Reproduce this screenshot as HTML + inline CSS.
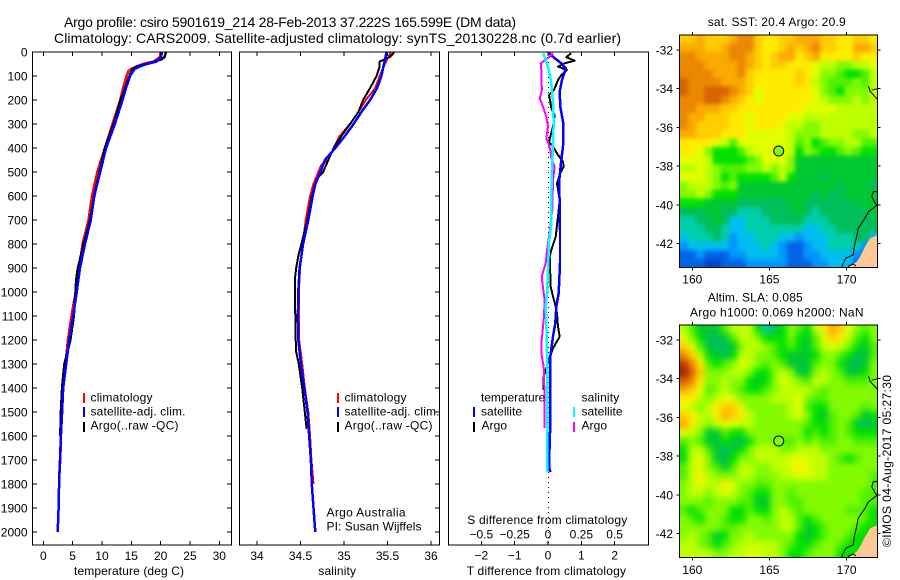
<!DOCTYPE html>
<html lang="en">
<head>
<meta charset="utf-8">
<title>Argo profile csiro 5901619_214</title>
<style>
html,body{margin:0;padding:0;background:#fff;width:900px;height:580px;overflow:hidden}
svg{display:block}
text{font-family:"Liberation Sans",Arial,sans-serif;font-size:12px;fill:#000}
.frame{fill:none;stroke:#000;stroke-width:1;shape-rendering:crispEdges}
.tick{stroke:#000;stroke-width:1;shape-rendering:crispEdges}
.curve{fill:none;shape-rendering:crispEdges;stroke-linejoin:round}
.bar{shape-rendering:crispEdges}
</style>
</head>
<body>
<svg id="chart" xmlns="http://www.w3.org/2000/svg" width="900" height="580" viewBox="0 0 900 580">
  <defs>
    <filter id="blurSst" filterUnits="userSpaceOnUse" x="640" y="0" width="260" height="300" color-interpolation-filters="sRGB"><feGaussianBlur stdDeviation="2.2"/></filter>
    <filter id="blurSla" filterUnits="userSpaceOnUse" x="640" y="290" width="260" height="290" color-interpolation-filters="sRGB"><feGaussianBlur stdDeviation="3.2"/></filter>
    <clipPath id="clipSst"><rect x="679.5" y="35" width="198" height="232.5"/></clipPath>
    <clipPath id="clipSla"><rect x="679.5" y="325" width="198" height="232.5"/></clipPath>
  </defs>
  <rect x="0" y="0" width="900" height="580" fill="#fff"/>
  <text x="64" y="27" style="font-size:14px" textLength="452" lengthAdjust="spacing">Argo profile: csiro 5901619_214 28-Feb-2013 37.222S 165.599E (DM data)</text>
  <text x="54" y="43" style="font-size:14px" textLength="567" lengthAdjust="spacing">Climatology: CARS2009. Satellite-adjusted climatology: synTS_20130228.nc (0.7d earlier)</text>

  <g id="panelT"></g>
  <g id="panelS"></g>
  <g id="panelD"></g>
  <g id="mapA"></g>
  <g id="mapB"></g>

  <text x="74" y="575" textLength="110" lengthAdjust="spacing">temperature (deg C)</text>
  <text x="318.3" y="575" textLength="37.7" lengthAdjust="spacing">salinity</text>
  <text x="466.7" y="575" textLength="159.3" lengthAdjust="spacing">T difference from climatology</text>
  <text x="467.3" y="524" textLength="160" lengthAdjust="spacing">S difference from climatology</text>

  <g>
    <rect class="bar" x="83" y="393" width="2" height="10" fill="#f00"/>
    <text x="90.5" y="401.5" textLength="62" lengthAdjust="spacing">climatology</text>
    <rect class="bar" x="83" y="407" width="2" height="10" fill="#00f"/>
    <text x="90.5" y="415.5" textLength="95" lengthAdjust="spacing">satellite-adj. clim.</text>
    <rect class="bar" x="83" y="422" width="2" height="10" fill="#000"/>
    <text x="90.5" y="429.5" textLength="88" lengthAdjust="spacing">Argo(..raw -QC)</text>
  </g>
  <g>
    <rect class="bar" x="337" y="393" width="2" height="10" fill="#f00"/>
    <text x="344.5" y="401.5" textLength="62" lengthAdjust="spacing">climatology</text>
    <rect class="bar" x="337" y="407" width="2" height="10" fill="#00f"/>
    <text x="344.5" y="415.5" textLength="95" lengthAdjust="spacing">satellite-adj. clim.</text>
    <rect class="bar" x="337" y="422" width="2" height="10" fill="#000"/>
    <text x="344.5" y="429.5" textLength="88" lengthAdjust="spacing">Argo(..raw -QC)</text>
  </g>
  <text x="326.5" y="516.5" textLength="79" lengthAdjust="spacing">Argo Australia</text>
  <text x="326.5" y="530.5" textLength="95" lengthAdjust="spacing">PI: Susan Wijffels</text>

  <g>
    <text x="481" y="401.5" textLength="64.3" lengthAdjust="spacing">temperature</text>
    <rect class="bar" x="473" y="407" width="2" height="10" fill="#00f"/>
    <text x="481" y="415.5" textLength="41" lengthAdjust="spacing">satellite</text>
    <rect class="bar" x="473" y="422" width="2" height="10" fill="#000"/>
    <text x="481.5" y="429.5" textLength="25.5" lengthAdjust="spacing">Argo</text>
    <text x="581.5" y="401.5" textLength="37.7" lengthAdjust="spacing">salinity</text>
    <rect class="bar" x="573" y="407" width="2" height="10" fill="#0ff"/>
    <text x="581.5" y="415.5" textLength="41" lengthAdjust="spacing">satellite</text>
    <rect class="bar" x="573" y="422" width="2" height="10" fill="#f0f"/>
    <text x="581.5" y="429.5" textLength="25.5" lengthAdjust="spacing">Argo</text>
  </g>

  <text x="707.7" y="26" textLength="138" lengthAdjust="spacing">sat. SST: 20.4 Argo: 20.9</text>
  <text x="707.7" y="301.5" textLength="95" lengthAdjust="spacing">Altim. SLA: 0.085</text>
  <text x="690" y="316.5" textLength="173.5" lengthAdjust="spacing">Argo h1000: 0.069 h2000: NaN</text>
  <text transform="translate(891,547) rotate(-90)" textLength="172" lengthAdjust="spacing">©IMOS 04-Aug-2017 05:27:30</text>
</svg>

<script>
// ---------- tick labels ----------
const depthTicks = [0,100,200,300,400,500,600,700,800,900,1000,1100,1200,1300,1400,1500,1600,1700,1800,1900,2000];
const tempTicks = [0,5,10,15,20,25,30];
const salTicks = [34,34.5,35,35.5,36];
const tDiffTicks = [-2,-1,0,1,2];
const sDiffTicks = [-0.5,-0.25,0,0.25,0.5];
const lonTicks = [160,165,170];
const latTicks = [-32,-34,-36,-38,-40,-42];

// ---------- temperature profiles ----------
const tempClimDepth = [0,20,40,50,60,70,80,100,150,200,300,400,500,600,700,800,900,1000,1100,1200,1300,1400,1500,1600,1700,1750,1800,1900,2000];
const tempClimValue = [20.0,19.9,18.8,17,15.9,15,14.5,14.2,13.6,13.1,11.8,10.5,9.2,8.3,7.7,6.7,6.1,5.5,4.8,4.2,3.8,3.4,3.2,3,2.9,2.75,2.7,2.6,2.45];
const tempSatDepth = [0,20,40,50,60,70,100,150,200,300,400,500,600,700,800,900,1000,1100,1200,1300,1400,1500,1600,1700,1800,1900,2000];
const tempSatValue = [20.2,20.1,19.3,17.6,16.5,15.6,14.8,14.1,13.5,12.2,10.7,9.7,8.7,8.1,7.1,6.25,5.7,5.1,4.4,3.9,3.4,3.2,3.0,2.85,2.7,2.6,2.45];
const tempArgoDepth = [0,20,30,40,50,60,70,100,150,200,300,400,500,600,700,800,900,950,1000,1100,1200,1300,1400,1500,1600];
const tempArgoValue = [20.9,20.7,20.2,19,17.5,16,15.3,14.7,14,13.2,12,10.5,9.6,8.7,8,6.9,5.9,5.6,5.5,5.2,4.6,3.6,3.2,3,2.9];

// ---------- salinity profiles ----------
const salClimDepth = [0,50,100,150,200,250,300,350,400,450,470,500,550,600,700,800,900,1000,1100,1200,1300,1400,1500,1600,1700,1800];
const salClimValue = [35.54,35.47,35.41,35.36,35.25,35.165,35.07,34.95,34.88,34.82,34.74,34.705,34.65,34.61,34.56,34.525,34.495,34.48,34.48,34.485,34.52,34.55,34.59,34.61,34.625,34.65];
const salSatDepth = [0,50,100,150,200,250,300,350,400,450,500,550,600,700,800,900,1000,1100,1200,1300,1400,1500,1600,1700,1800,1900,2000];
const salSatValue = [35.49,35.46,35.43,35.38,35.30,35.20,35.11,35.01,34.90,34.78,34.73,34.67,34.64,34.59,34.53,34.49,34.475,34.47,34.475,34.505,34.545,34.58,34.60,34.62,34.63,34.65,34.67];
const salArgoDepth = [0,20,40,60,100,150,200,250,300,350,400,450,500,530,600,700,800,850,900,950,1000,1100,1200,1250,1300,1400,1500,1570];
const salArgoValue = [35.58,35.53,35.41,35.41,35.375,35.30,35.22,35.165,35.07,34.97,34.88,34.82,34.76,34.685,34.63,34.58,34.51,34.475,34.45,34.435,34.435,34.44,34.445,34.45,34.48,34.52,34.55,34.57];

// ---------- differences from climatology ----------
const dTSatDepth = [5,26,47,68,117,165,228,297,394,436,492,547,630,742,880,1005,1061,1130,1186,1270,1353,1547,1728,1750];
const dTSatValue = [0.03,0.2,0.4,0.53,0.42,0.35,0.37,0.46,0.45,0.41,0.37,0.33,0.35,0.36,0.36,0.32,0.25,0.22,0.15,0.07,0.07,0.07,0.03,0.07];
const dTArgoDepth = [5,8,22,36,47,61,75,96,117,158,179,207,235,262,311,353,374,394,429,457,478,505,547,617,686,769,825,853,978,1019,1061,1089,1144,1186,1234,1283,1353,1408];
const dTArgoValue = [0.65,0.67,0.55,0.8,0.5,0.3,0.57,0.4,0.3,0.18,0.03,0.07,0.1,0.2,0.15,0.07,0.03,0.15,0.3,0.45,0.47,0.37,0.27,0.35,0.3,0.23,0.1,0.05,0.08,0.15,0.23,0.27,0.3,0.35,0.15,0.03,-0.13,-0.13];
const dSSatDepth = [5,33,75,130,214,297,380,492,603,714,797,908,1005,1061,1117,1256,1395,1750];
const dSSatValue = [-0.0375,-0.0175,0.0075,0.025,0.0375,0.0425,0.0375,0.03,0.025,0.025,0.0075,0,-0.0075,-0.0175,-0.0125,-0.0075,-0.005,-0.005];
const dSArgoDepth = [5,19,47,75,117,158,193,228,269,311,360,374,408,443,478,533,658,769,825,880,936,1005,1033,1117,1214,1256,1311,1450,1567];
const dSArgoValue = [0.0375,0.0125,-0.055,-0.05,-0.05,-0.045,-0.0625,-0.0375,-0.0125,0,-0.0125,0,0.0175,0.025,0.05,0.0375,0.0325,0.0075,-0.0075,-0.0175,-0.0475,-0.0325,-0.025,-0.0325,-0.05,-0.05,-0.0325,-0.025,-0.025];

// ---------- map fields (colour level per cell, north to south) ----------
const sstLevels = [
[13,13,14,13,13,13,14,15,15,13,12,12,13,13,14,14,14,13,13,12,12,13,13,12],
[14,14,14,13,13,14,15,15,15,13,12,12,13,14,13,14,15,13,13,12,12,14,14,13],
[15,15,14,14,14,14,15,15,14,13,12,13,14,14,12,13,14,12,12,12,12,13,12,12],
[15,15,15,14,14,14,14,15,14,13,12,13,13,12,12,12,11,10,10,9,9,10,10,11],
[15,15,15,15,14,14,14,15,13,12,12,12,12,12,13,12,11,9,9,8,7,7,8,10],
[16,15,15,15,15,14,14,14,13,12,12,12,12,12,13,12,10,9,8,8,8,9,8,10],
[16,15,15,16,16,16,15,14,13,11,12,12,12,12,12,12,11,9,8,7,9,9,9,10],
[15,15,15,16,16,15,14,13,12,11,12,12,12,12,12,12,11,10,9,9,9,10,9,10],
[15,15,14,14,14,13,13,12,12,12,12,12,12,12,12,11,11,11,11,10,10,10,10,10],
[15,14,14,13,13,13,12,12,11,12,12,12,12,11,11,10,10,10,10,10,10,10,10,10],
[15,14,13,13,13,13,12,12,11,12,12,12,11,10,10,9,9,10,10,10,10,10,10,10],
[14,14,13,13,13,12,12,12,11,11,11,11,11,10,9,9,9,10,10,10,10,9,9,10],
[12,12,12,12,11,10,8,11,11,11,11,11,11,10,8,9,7,8,9,9,10,10,8,8],
[12,12,11,9,7,7,7,8,10,11,11,11,11,10,7,9,8,7,7,8,9,8,7,7],
[11,11,11,10,7,7,7,7,8,9,11,11,11,9,6,6,6,6,6,6,6,6,6,6],
[10,10,11,10,9,8,8,8,9,9,10,9,10,9,6,6,6,6,6,6,6,6,6,6],
[11,11,11,10,9,7,8,7,7,7,7,8,10,7,6,6,6,5,6,6,6,6,6,6],
[9,10,10,10,9,8,9,6,6,6,6,6,6,6,6,6,6,6,6,5,6,6,6,5],
[9,9,10,9,7,7,7,6,6,6,6,6,6,6,6,6,5,6,5,5,6,6,6,6],
[7,7,7,6,6,6,6,5,5,5,5,5,5,6,6,5,5,5,5,5,5,6,6,6],
[5,5,5,6,6,5,5,4,4,4,5,5,5,5,6,5,4,5,5,5,5,5,5,6],
[4,4,5,5,6,5,3,3,4,4,4,5,5,5,5,4,4,4,5,5,5,5,5,5],
[4,4,4,5,5,4,3,3,4,4,4,4,4,4,4,3,3,4,4,5,5,5,5,5],
[3,4,4,4,5,4,2,3,3,4,4,4,3,3,2,3,3,3,4,4,4,5,5,3],
[2,3,3,3,3,3,2,3,3,3,4,3,2,1,1,2,3,3,4,4,4,4,2,2],
[1,1,2,1,1,1,2,2,3,3,3,3,2,1,1,2,2,3,3,3,3,2,1,1],
[1,1,1,0,0,1,1,1,2,2,2,2,2,1,1,1,2,2,3,3,3,1,1,1]
];
const slaLevels = [
[10,8,6,6,6,8,10,10,10,7,4,5,7,9,8,7,10,12,14,13,11,9,8,9],
[11,9,7,5,5,6,8,10,10,9,7,7,7,9,7,6,8,11,13,12,10,8,7,9],
[13,11,8,6,5,5,6,9,10,10,9,8,7,8,7,6,8,10,11,10,9,7,6,8],
[15,13,10,7,6,5,7,10,10,9,9,8,7,6,6,6,7,9,9,8,7,5,6,8],
[17,15,12,8,7,8,9,11,10,9,8,9,8,6,6,6,8,9,9,7,6,5,6,9],
[18,16,13,9,9,9,10,10,9,7,7,9,10,9,6,6,9,10,9,8,6,6,7,9],
[16,15,12,9,9,10,9,9,7,6,7,9,11,10,9,8,10,10,9,9,8,8,8,9],
[14,13,11,8,9,10,9,8,7,7,8,9,10,10,10,10,9,8,9,9,9,9,9,9],
[12,12,10,9,10,11,11,9,9,9,9,10,10,10,11,9,8,8,9,9,9,9,9,9],
[11,10,9,10,12,13,13,11,9,9,9,9,9,10,11,8,7,7,9,9,9,9,8,9],
[13,12,10,10,12,14,13,12,10,9,9,9,9,10,11,9,7,6,8,9,9,8,6,7],
[14,12,10,9,10,11,11,10,10,9,9,9,9,9,9,8,7,7,8,9,8,6,5,6],
[11,10,9,6,6,8,7,7,9,9,9,9,9,9,9,7,8,7,8,9,8,7,7,7],
[8,9,8,6,6,7,6,5,7,9,9,9,8,8,9,8,9,8,8,9,9,8,8,8],
[7,10,10,8,6,5,6,7,9,10,10,10,9,9,10,10,10,9,9,9,9,9,9,9],
[7,10,11,9,6,5,7,9,9,10,10,10,10,11,11,11,10,10,9,8,7,8,9,9],
[8,10,11,9,8,6,8,10,10,9,9,10,10,11,12,11,10,10,9,9,9,9,9,9],
[8,10,12,10,9,9,9,10,10,9,9,9,10,10,11,11,10,10,9,9,9,9,9,8],
[9,10,11,10,10,12,11,9,9,8,8,9,9,9,9,9,9,9,9,9,9,9,9,8],
[9,10,10,9,10,11,10,9,8,7,7,9,9,8,9,9,9,9,9,9,9,9,8,8],
[9,9,9,8,9,9,9,8,8,6,6,9,9,8,8,9,9,9,9,9,9,9,8,8],
[8,7,8,9,9,9,7,7,8,7,7,9,10,9,8,9,9,9,9,9,8,8,8,7],
[9,8,7,9,9,8,7,7,9,9,8,9,10,10,8,7,8,9,9,9,9,9,8,7],
[9,9,9,9,9,8,8,9,9,9,9,9,10,10,8,6,7,8,9,9,9,8,7,7],
[9,10,9,8,6,7,9,9,10,9,9,9,9,9,7,6,7,8,9,9,8,7,7,7],
[10,10,9,8,7,8,9,10,10,10,10,10,9,8,7,7,8,9,9,8,7,7,7,7],
[10,10,10,10,9,9,10,10,11,11,10,10,9,7,7,8,9,9,9,7,7,7,7,7]
];

// ---------- coastlines and float position (degrees) ----------
const landLon = [172,171.52,171.19,170.87,170.65,170.09,172];
const landLat = [-41.56,-41.73,-42.17,-42.68,-42.94,-43.25,-43.25];
const coastLon = [171.99,171.73,171.63,171.86,171.99,171.41,171.19,170.76,170.65,170.5,170.43,169.94,169.68];
const coastLat = [-39.32,-39.32,-39.58,-39.92,-40.01,-40.36,-40.7,-41.21,-41.65,-42.17,-42.59,-42.76,-43.2];
const coast2Lon = [170.09,170.42,170.61];
const coast2Lat = [-43.19,-43.06,-43.16];
const coast3Lon = [171.41,171.52,171.99];
const coast3Lat = [-33.86,-34.13,-34.55];
const coast4Lon = [171.63,171.99];
const coast4Lat = [-34.08,-34];
const floatLon = 165.6;
const floatLat = -37.22;

// ---------- styling and scales ----------
const palette = ['#0046c8','#0064e6','#0096ff','#00bef0','#00cdaa','#00be5a','#00c832','#00e100','#50f000','#82fa00','#beff00','#e1ff00','#ffeb00','#ffcd00','#faaa00','#eb8700','#d76400','#be3c00','#a51e00'];
const NS = 'http://www.w3.org/2000/svg';
const plotTop = 52, plotBottom = 545;
const yDepth = d => plotTop + d * 0.24;
const xTemp = v => 43.3 + v * 5.867;
const xSal = v => 257 + (v - 34) * 87;
const xDT = v => 548 + v * 33.33;
const xDS = v => 548 + v * 133.3;
const xLon = v => 692.3 + (v - 160) * 15.43;
const yLat = (v, y32) => y32 + (-32 - v) * 19.35;

function make(parent, tag, attrs, name, text) {
  const node = document.createElementNS(NS, tag);
  for (const k in attrs) node.setAttribute(k, attrs[k]);
  
  
  if (text !== undefined) node.textContent = text;
  parent.appendChild(node);
  return node;
}
function frame(g, x0, y0, x1, y1, name) {
  make(g, 'rect', {class:'frame', x:x0, y:y0, width:x1-x0, height:y1-y0}, name);
}
function tick(g, x1, y1, x2, y2, name) {
  make(g, 'line', {class:'tick', x1:x1, y1:y1, x2:x2, y2:y2}, name);
}
function curve(g, scaleX, depths, values, color, width, name) {
  const pts = depths.map((d, i) => scaleX(values[i]).toFixed(1) + ',' + yDepth(d).toFixed(1)).join(' ');
  make(g, 'polyline', {class:'curve', points:pts, stroke:color, 'stroke-width':width}, name);
}
function label(v) { return String(v).replace('-', '\u2212'); }

// ---------- profile panels ----------
const panelT = document.getElementById('panelT');
const panelS = document.getElementById('panelS');
const panelD = document.getElementById('panelD');

curve(panelT, xTemp, tempClimDepth, tempClimValue, '#f00', 2.5, 'temperature-climatology-line');
curve(panelT, xTemp, tempArgoDepth, tempArgoValue, '#000', 2.5, 'temperature-argo-line');
curve(panelT, xTemp, tempSatDepth, tempSatValue, '#00f', 2.5, 'temperature-satellite-line');
frame(panelT, 32.5, plotTop, 231.5, plotBottom, 'temperature-plot-frame');
depthTicks.forEach(d => {
  tick(panelT, 32.5, yDepth(d), 37, yDepth(d), 'depth-tick-left');
  tick(panelT, 227, yDepth(d), 231.5, yDepth(d), 'depth-tick-right');
  make(panelT, 'text', {x:27.5, y:yDepth(d)+4.5, 'text-anchor':'end'}, 'depth-tick-label', d);
});
tempTicks.forEach(v => {
  tick(panelT, xTemp(v), plotTop, xTemp(v), plotTop+4, 'temperature-tick-top');
  tick(panelT, xTemp(v), plotBottom-4, xTemp(v), plotBottom, 'temperature-tick-bottom');
  make(panelT, 'text', {x:xTemp(v), y:560, 'text-anchor':'middle'}, 'temperature-tick-label', v);
});

curve(panelS, xSal, salClimDepth, salClimValue, '#f00', 2, 'salinity-climatology-line');
curve(panelS, xSal, salArgoDepth, salArgoValue, '#000', 2, 'salinity-argo-line');
curve(panelS, xSal, salSatDepth, salSatValue, '#00f', 2.5, 'salinity-satellite-line');
frame(panelS, 239.5, plotTop, 439.5, plotBottom, 'salinity-plot-frame');
depthTicks.forEach(d => {
  tick(panelS, 435, yDepth(d), 439.5, yDepth(d), 'depth-tick-right');
});
salTicks.forEach(v => {
  tick(panelS, xSal(v), plotTop, xSal(v), plotTop+4, 'salinity-tick-top');
  tick(panelS, xSal(v), plotBottom-4, xSal(v), plotBottom, 'salinity-tick-bottom');
  make(panelS, 'text', {x:xSal(v), y:560, 'text-anchor':'middle'}, 'salinity-tick-label', v);
});

make(panelD, 'line', {x1:548.5, y1:plotTop, x2:548.5, y2:plotBottom, stroke:'#000', 'stroke-width':1, 'stroke-dasharray':'1 4', 'shape-rendering':'crispEdges'}, 'zero-difference-line');
curve(panelD, xDT, dTArgoDepth, dTArgoValue, '#000', 2, 't-difference-argo-line');
curve(panelD, xDT, dTSatDepth, dTSatValue, '#00f', 2.5, 't-difference-satellite-line');
curve(panelD, xDS, dSArgoDepth, dSArgoValue, '#f0f', 2, 's-difference-argo-line');
curve(panelD, xDS, dSSatDepth, dSSatValue, '#0ff', 2.5, 's-difference-satellite-line');
frame(panelD, 448.5, plotTop, 648.5, plotBottom, 'difference-plot-frame');
tDiffTicks.forEach(v => {
  tick(panelD, xDT(v), plotTop, xDT(v), plotTop+4, 't-difference-tick-top');
  tick(panelD, xDT(v), plotBottom-4, xDT(v), plotBottom, 't-difference-tick-bottom');
  make(panelD, 'text', {x:xDT(v), y:559.5, 'text-anchor':'middle'}, 't-difference-tick-label', label(v));
});
sDiffTicks.forEach(v => {
  make(panelD, 'text', {x:xDS(v), y:538.5, 'text-anchor':'middle'}, 's-difference-tick-label', label(v));
});

// ---------- maps ----------
function drawMap(g, levels, top, bottom, labelY, cellName, clipId, filterId) {
  const left = 679.5, right = 877.5;
  const y32 = top + 15;
  const rows = levels.length, cols = levels[0].length;
  const cw = (right - left) / cols, ch = (bottom - top) / rows;
  const clip = make(g, 'g', {'clip-path':'url(#' + clipId + ')'}, 'map-field-clip');
  const field = make(clip, 'g', {filter:'url(#' + filterId + ')'}, 'map-field');
  levels.forEach((row, r) => row.forEach((lv, c) => {
    // outer cells run past the frame so the smoothing keeps full colour at the edges
    const padL = c === 0 ? 12 : 0, padR = c === cols - 1 ? 12 : 0;
    const padT = r === 0 ? 12 : 0, padB = r === rows - 1 ? 12 : 0;
    make(field, 'rect', {x:(left + c*cw - padL).toFixed(2), y:(top + r*ch - padT).toFixed(2), width:(cw + 0.3 + padL + padR).toFixed(2), height:(ch + 0.3 + padT + padB).toFixed(2), fill:palette[lv], 'shape-rendering':'crispEdges'}, cellName);
  }));
  const poly = (lons, lats) => lons.map((v, i) => xLon(v).toFixed(1) + ',' + yLat(lats[i], y32).toFixed(1)).join(' ');
  make(g, 'polygon', {points:poly(landLon, landLat), fill:'#fdc896', stroke:'none'}, 'land-area');
  [[coastLon,coastLat],[coast2Lon,coast2Lat],[coast3Lon,coast3Lat],[coast4Lon,coast4Lat]].forEach(pair => {
    make(g, 'polyline', {points:poly(pair[0], pair[1]), fill:'none', stroke:'#000', 'stroke-width':1}, 'coastline');
  });
  make(g, 'circle', {cx:xLon(floatLon), cy:yLat(floatLat, y32), r:5, fill:palette[9], stroke:'#000', 'stroke-width':1}, 'argo-float-marker');
  frame(g, left, top, right, bottom, 'map-frame');
  lonTicks.forEach(v => {
    tick(g, xLon(v), top-3, xLon(v), top, 'longitude-tick-top');
    tick(g, xLon(v), bottom, xLon(v), bottom+3, 'longitude-tick-bottom');
    make(g, 'text', {x:xLon(v), y:labelY, 'text-anchor':'middle'}, 'longitude-tick-label', v);
  });
  latTicks.forEach(v => {
    const y = yLat(v, y32);
    tick(g, left-3, y, left, y, 'latitude-tick-left');
    tick(g, right, y, right+3, y, 'latitude-tick-right');
    make(g, 'text', {x:673, y:y+4.5, 'text-anchor':'end'}, 'latitude-tick-label', v);
  });
}
drawMap(document.getElementById('mapA'), sstLevels, 35, 267.5, 283.5, 'sst-cell', 'clipSst', 'blurSst');
drawMap(document.getElementById('mapB'), slaLevels, 325, 557.5, 574, 'sla-cell', 'clipSla', 'blurSla');
</script>
</body>
</html>
